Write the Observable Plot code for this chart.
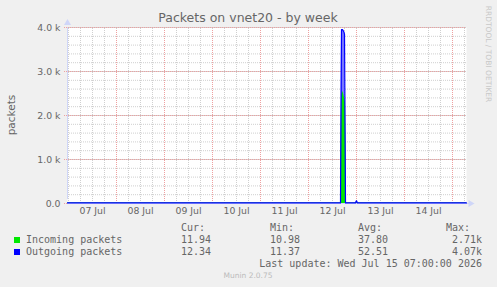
<!DOCTYPE html>
<html>
<head>
<meta charset="utf-8">
<script src="https://cdn.jsdelivr.net/npm/d3@7"></script>
<script src="https://cdn.jsdelivr.net/npm/@observablehq/plot@0.6"></script>
<style>
  html, body { margin: 0; padding: 0; background: #f0f0f0; }
  #wrap { position: relative; width: 497px; height: 287px; background: #f0f0f0; overflow: hidden; }
  #wrap svg { position: absolute; left: 0; top: 0; }
  .t { position: absolute; white-space: pre; line-height: 1; }
</style>
</head>
<body>
<div id="wrap"></div>
<script>
// ---- data ----
const timeStart = "2026-07-06T23:30:00Z";
const timeEnd = "2026-07-15T07:00:00Z";
const times = [
  "2026-07-06T23:30:00Z", "2026-07-12T16:00:00Z", "2026-07-12T16:30:00Z",
  "2026-07-12T17:00:00Z", "2026-07-12T17:30:00Z", "2026-07-12T18:00:00Z",
  "2026-07-12T18:30:00Z", "2026-07-12T19:00:00Z", "2026-07-12T23:30:00Z",
  "2026-07-13T00:00:00Z", "2026-07-13T00:30:00Z", "2026-07-15T07:00:00Z"
];
const incoming = [12, 12, 2450, 2550, 2500, 2400, 2300, 12, 12, 20, 12, 12];
const outgoing = [12, 12, 3950, 3950, 3920, 3850, 12, 12, 12, 60, 12, 12];
const yTicks = [0, 1000, 2000, 3000, 4000];
const yTickLabels = ["0.0", "1.0 k", "2.0 k", "3.0 k", "4.0 k"];
const dayLines = ["2026-07-08", "2026-07-09", "2026-07-10", "2026-07-11", "2026-07-12", "2026-07-13", "2026-07-14", "2026-07-15"];
const dayLabelTimes = ["2026-07-07T12:00Z", "2026-07-08T12:00Z", "2026-07-09T12:00Z", "2026-07-10T12:00Z", "2026-07-11T12:00Z", "2026-07-12T12:00Z", "2026-07-13T12:00Z", "2026-07-14T12:00Z"];
const dayLabels = ["07 Jul", "08 Jul", "09 Jul", "10 Jul", "11 Jul", "12 Jul", "13 Jul", "14 Jul"];
const seriesNames = ["Incoming packets", "Outgoing packets"];
const seriesColors = ["#00e800", "#0000ff"];
const statHeads = ["Cur:", "Min:", "Avg:", "Max:"];
const statCur = ["11.94", "12.34"];
const statMin = ["10.98", "11.37"];
const statAvg = ["37.80", "52.51"];
const statMax = ["2.71k", "4.07k"];
const title = "Packets on vnet20 - by week";
const yLabel = "packets";
const lastUpdate = "Last update: Wed Jul 15 07:00:00 2026";
const footer = "Munin 2.0.75";
const sideText = "RRDTOOL / TOBI OETIKER";

// ---- build ----
const data = times.map((t, i) => ({t: new Date(t), inc: incoming[i], out: outgoing[i]}));
const start = new Date(timeStart), end = new Date(timeEnd);
const minorX = d3.utcHour.every(6).range(start, end);
const minorY = d3.range(0, 4001, 200);
const majorX = dayLines.map(d => new Date(d + "T00:00:00Z"));
const noon = dayLabelTimes.map(d => new Date(d));
const xLab = new Map(noon.map((d, i) => [+d, dayLabels[i]]));
const yLab = new Map(yTicks.map((d, i) => [d, yTickLabels[i]]));
const AXIS = "#cfd6f8";

const chart = Plot.plot({
  width: 497, height: 287,
  marginLeft: 67, marginRight: 31, marginTop: 27, marginBottom: 84,
  style: {background: "transparent", fontFamily: "DejaVu Sans", color: "#666"},
  x: {type: "utc", domain: [start, end]},
  y: {domain: [0, 4000]},
  marks: [
    Plot.frame({fill: "white", stroke: null}),
    Plot.ruleX(minorX, {stroke: "#cfcfcf", strokeDasharray: "1,1", y1: 0, y2: 4000}),
    Plot.ruleY(minorY, {stroke: "#cfcfcf", strokeDasharray: "1,1"}),
    Plot.ruleX(majorX, {stroke: "#eea0a0", strokeDasharray: "1,1", y1: 0, y2: 4000, insetBottom: -3}),
    Plot.ruleY(yTicks, {stroke: "#eea0a0", strokeDasharray: "1,1", insetLeft: -3}),
    Plot.ruleY([0], {stroke: AXIS, insetRight: -3}),
    Plot.ruleX([start], {stroke: AXIS, y1: 0, y2: 4000, insetTop: -4}),
    Plot.dot([0], {x: () => start, y: () => 4100, symbol: "triangle", r: 2.6, fill: AXIS, stroke: null}),
    Plot.dot([0], {x: () => end, y: () => 0, symbol: "triangle", r: 2.6, fill: AXIS, stroke: null, rotate: 90, dx: 4}),
    Plot.areaY(data, {x: "t", y: "out", fill: "#7878ff", curve: "linear"}),
    Plot.areaY(data, {x: "t", y: "inc", fill: seriesColors[0], curve: "linear"}),
    Plot.lineY(data, {x: "t", y: "out", stroke: seriesColors[1], strokeWidth: 1.2, curve: "linear"}),
    Plot.axisY(yTicks, {tickFormat: d => yLab.get(d), tickSize: 0, tickPadding: 7, fontSize: 9.33, fill: "#666", label: null}),
    Plot.axisX(noon, {tickFormat: d => xLab.get(+d), tickSize: 0, tickPadding: 4, fontSize: 9.33, fill: "#666", label: null})
  ]
});
const wrap = document.getElementById("wrap");
wrap.appendChild(chart);

function place(text, x, yc, o = {}) {
  const el = document.createElement("div");
  el.className = "t";
  el.textContent = text;
  const size = o.size || 10;
  el.style.fontSize = size + "px";
  el.style.fontFamily = o.family || "'DejaVu Sans Mono', monospace";
  el.style.color = o.color || "#666";
  el.style.left = x + "px";
  el.style.top = (yc - size * 0.5) + "px";
  const tx = o.anchor === "end" ? "-100%" : o.anchor === "middle" ? "-50%" : "0";
  el.style.transform = `translateX(${tx})` + (o.rotate ? ` rotate(${o.rotate}deg)` : "");
  if (o.rotate) el.style.transformOrigin = "center center";
  wrap.appendChild(el);
  return el;
}
function rotated(text, xc, yc, size, color, deg, family) {
  const el = document.createElement("div");
  el.className = "t";
  el.textContent = text;
  el.style.fontSize = size + "px";
  el.style.fontFamily = family;
  el.style.color = color;
  el.style.left = xc + "px";
  el.style.top = yc + "px";
  el.style.transform = `translate(-50%, -50%) rotate(${deg}deg)`;
  wrap.appendChild(el);
}

place(title, 248, 18, {size: 12.5, family: "'DejaVu Sans'", anchor: "middle", color: "#666"});
rotated(yLabel, 11, 115, 10.5, "#666", -90, "'DejaVu Sans'");
rotated(sideText, 488, 54, 7.5, "#c8c8c8", 90, "'DejaVu Sans'");

const colX = [181, 270, 358];
place(statHeads[0], colX[0], 228);
place(statHeads[1], colX[1], 228);
place(statHeads[2], colX[2], 228);
place(statHeads[3], 470, 228, {anchor: "end"});
const rowY = [239.5, 251.5];
seriesNames.forEach((name, i) => {
  const sq = document.createElement("div");
  sq.style.cssText = `position:absolute;left:14px;top:${rowY[i] - 3}px;width:6px;height:6px;background:${seriesColors[i]}`;
  wrap.appendChild(sq);
  place(name, 26, rowY[i]);
  place(statCur[i], colX[0], rowY[i]);
  place(statMin[i], colX[1], rowY[i]);
  place(statAvg[i], colX[2], rowY[i]);
  place(statMax[i], 482, rowY[i], {anchor: "end"});
});
place(lastUpdate, 482, 264, {anchor: "end"});
place(footer, 248, 276, {size: 7.5, family: "'DejaVu Sans'", anchor: "middle", color: "#bbbbbb"});
</script>
</body>
</html>
